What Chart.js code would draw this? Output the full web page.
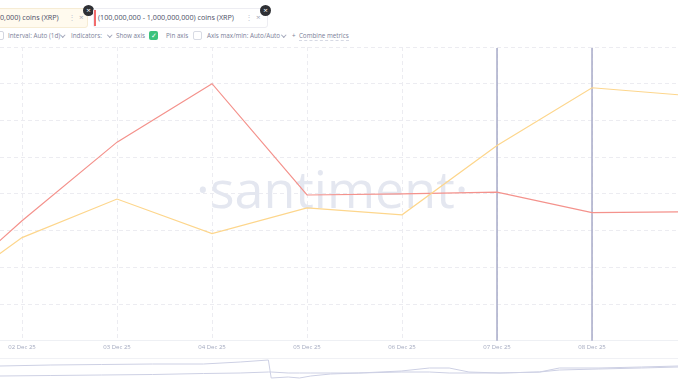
<!DOCTYPE html>
<html>
<head>
<meta charset="utf-8">
<script src="https://cdn.jsdelivr.net/npm/chart.js@4/dist/chart.umd.min.js"></script>
<style>
  body { margin: 0; width: 678px; height: 381px; overflow: hidden; background: #fff; position: relative; font-family: 'Open Sans', sans-serif; }
  #main { position: absolute; left: 0; top: 0; }
  #nav { position: absolute; left: 0; top: 359px; }
  .navline { position: absolute; left: 0; top: 358px; width: 678px; height: 1px; background: #f0f1f5; }
  .tab { position: absolute; top: 8px; height: 20px; box-sizing: border-box; border: 1px solid #ededf2; border-radius: 3px; white-space: nowrap; }
  .tab span { position: absolute; top: 3px; font-size: 7.2px; color: #4b4f67; }
  .tab .kebab { color: #c4c7d4; font-size: 8px; top: 2px; }
  .tab .x { color: #a3a7b8; font-size: 8px; top: 2px; }
  .close { position: absolute; width: 11px; height: 11px; border-radius: 50%; background: #2e3034; color: #fff; font-size: 8px; line-height: 10px; text-align: center; }
  .tool { position: absolute; top: 31px; font-size: 6.3px; color: #7c8199; white-space: nowrap; }
  .chev { position: absolute; top: 33px; width: 2.5px; height: 2.5px; border-right: 1px solid #a4a8bb; border-bottom: 1px solid #a4a8bb; transform: rotate(45deg); }
  .box { position: absolute; top: 31px; width: 9px; height: 9px; box-sizing: border-box; border-radius: 2px; }
</style>
</head>
<body>
<div class="tab" style="left:-8px; width:96px; background:#fffaee; border-color:#f6ecd4;">
  <span style="left:7px;">0,000) coins (XRP)</span>
  <span class="kebab" style="left:75px;">⋮</span>
  <span class="x" style="left:86px;">×</span>
</div>
<div class="close" style="left:83px; top:5px;">×</div>
<div class="tab" style="left:93px; width:175px; background:#fff;">
  <div style="position:absolute; left:0; top:1px; width:2px; height:16px; background:#f26b6b;"></div>
  <span style="left:4px;">(100,000,000 - 1,000,000,000) coins (XRP)</span>
  <span class="kebab" style="left:151px;">⋮</span>
  <span class="x" style="left:162px;">×</span>
</div>
<div class="close" style="left:260px; top:5px;">×</div>

<div class="box" style="left:-5px; border:1px solid #d3d6e0;"></div>
<div class="tool" style="left:8px;">Interval: Auto (1d)</div>
<div class="chev" style="left:61px;"></div>
<div class="tool" style="left:71px;">Indicators:</div>
<div class="chev" style="left:108px;"></div>
<div class="tool" style="left:116px;">Show axis</div>
<div class="box" style="left:149px; background:#3cc27c; color:#fff; font-size:7px; line-height:9px; text-align:center;">✓</div>
<div class="tool" style="left:166px;">Pin axis</div>
<div class="box" style="left:193px; border:1px solid #d8dbe4;"></div>
<div class="tool" style="left:207px;">Axis max/min: Auto/Auto</div>
<div class="chev" style="left:282px;"></div>
<div class="tool" style="left:292px;">+&nbsp; <span style="border-bottom:1px dashed #d6d9e4;">Combine metrics</span></div>

<canvas id="main" width="678" height="381"></canvas>
<div class="navline"></div>
<canvas id="nav" width="678" height="22"></canvas>

<script>
// days: index 0 = 01 Dec 25
var dayLabels = ['01 Dec 25', '02 Dec 25', '03 Dec 25', '04 Dec 25', '05 Dec 25', '06 Dec 25', '07 Dec 25', '08 Dec 25', '09 Dec 25'];
var tickDays = [1, 2, 3, 4, 5, 6, 7];
var markerDays = [6, 7]; // 07 Dec, 08 Dec
var holders10M = [0.95, 2.81, 3.86, 2.92, 3.62, 3.43, 5.32, 6.89, 6.68];  // yellow
var holders100M = [0.95, 3.27, 5.41, 7.0, 3.97, 4.0, 4.05, 3.49, 3.51];  // red

// navigator (overview strip)
var navHours = [0, 18, 36, 54, 72, 85, 95, 96, 102, 106, 110, 117, 127, 142, 152, 159, 166, 177, 191, 198, 212, 227, 240];
var navTop = [15, 16, 16.5, 17, 17, 19, 21, 3, 4, 3, 5, 7, 8, 10, 13, 13, 9, 8, 9, 13, 13, 14, 15];
var navBottom = [5, 5.5, 6, 6.5, 7.5, 8, 9, 9, 8, 8, 8, 8, 8, 9, 9, 8, 8, 8, 9, 11, 12, 13, 14];

function toPoints(xs, ys) {
    return xs.map(function(x, i) { return { x: x, y: ys[i] }; });
}

var watermark = {
    id: 'watermark',
    beforeDatasetsDraw: function(chart) {
        var ctx = chart.ctx, a = chart.chartArea;
        ctx.save();
        ctx.font = '52px "Open Sans"';
        ctx.fillStyle = '#e4e7f0';
        ctx.textAlign = 'center';
        ctx.textBaseline = 'alphabetic';
        ctx.fillText('·santiment·', a.left + a.width * 0.49, a.top + 161);
        ctx.restore();
    }
};

var markers = {
    id: 'markers',
    beforeDatasetsDraw: function(chart) {
        var ctx = chart.ctx, a = chart.chartArea, xs = chart.scales.x;
        ctx.save();
        ctx.strokeStyle = '#a7aac8';
        ctx.lineWidth = 1.5;
        markerDays.forEach(function(d) {
            var px = xs.getPixelForValue(d);
            ctx.beginPath();
            ctx.moveTo(px, a.top + 1);
            ctx.lineTo(px, a.bottom);
            ctx.stroke();
        });
        ctx.restore();
    }
};

var days = dayLabels.map(function(l, i) { return i; });

new Chart(document.getElementById('main').getContext('2d'), {
    type: 'line',
    data: {
        datasets: [
            {
                label: '(10,000,000 - 100,000,000) coins (XRP)',
                data: toPoints(days, holders10M),
                borderColor: '#fdd68c',
                borderWidth: 1.2,
                pointRadius: 0,
                tension: 0
            },
            {
                label: '(100,000,000 - 1,000,000,000) coins (XRP)',
                data: toPoints(days, holders100M),
                borderColor: '#f4928c',
                borderWidth: 1.2,
                pointRadius: 0,
                tension: 0
            }
        ]
    },
    options: {
        responsive: false,
        animation: false,
        layout: { padding: { top: 47, bottom: 28, left: 0, right: 0 } },
        plugins: { legend: { display: false }, tooltip: { enabled: false } },
        scales: {
            x: {
                type: 'linear',
                min: 0.768,
                max: 7.905,
                afterBuildTicks: function(scale) {
                    scale.ticks = tickDays.map(function(v) { return { value: v }; });
                },
                ticks: {
                    autoSkip: false,
                    maxRotation: 0,
                    padding: 2.5,
                    font: { family: 'Open Sans', size: 6 },
                    color: '#a3a9bf',
                    callback: function(value) { return dayLabels[value]; }
                },
                grid: { color: '#ececf1', drawTicks: false },
                border: { display: true, color: '#eef0f4', dash: [4, 3] }
            },
            y: {
                min: 0,
                max: 8,
                ticks: { display: false, stepSize: 1 },
                grid: { color: '#ececf1', drawTicks: false },
                border: { display: false, dash: [4, 3] }
            }
        }
    },
    plugins: [watermark, markers]
});

new Chart(document.getElementById('nav').getContext('2d'), {
    type: 'line',
    data: {
        datasets: [
            { data: toPoints(navHours, navTop), borderColor: '#cdd0e4', borderWidth: 1, pointRadius: 0 },
            { data: toPoints(navHours, navBottom), borderColor: '#cdd0e4', borderWidth: 1, pointRadius: 0 }
        ]
    },
    options: {
        responsive: false,
        animation: false,
        layout: { padding: 0 },
        plugins: { legend: { display: false }, tooltip: { enabled: false } },
        scales: {
            x: { type: 'linear', display: false, min: 0, max: 240 },
            y: { display: false, min: 0, max: 22 }
        }
    }
});
</script>
</body>
</html>
